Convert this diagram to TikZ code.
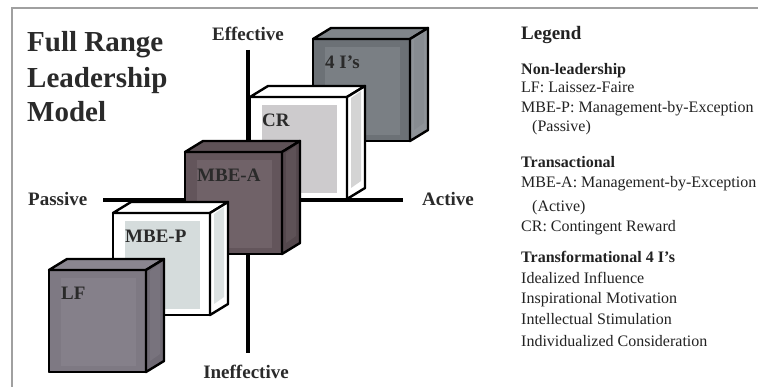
\documentclass[tikz,border=0pt]{standalone}
\usepackage{fontspec}
\setmainfont{Liberation Serif}
\usetikzlibrary{calc}
\definecolor{frameline}{HTML}{A0A0A0}
\definecolor{labeltext}{HTML}{2A2A2A}
\definecolor{legendtext}{HTML}{222222}
\definecolor{lfFront}{HTML}{7E7983}
\definecolor{lfInner}{HTML}{85808A}
\definecolor{lfTop}{HTML}{8A8690}
\definecolor{lfRight}{HTML}{6F6A74}
\definecolor{lfRightIn}{HTML}{78737D}
\definecolor{mbepInner}{HTML}{D5DCDC}
\definecolor{mbepRightIn}{HTML}{DCE2E2}
\definecolor{mbeaFront}{HTML}{63555B}
\definecolor{mbeaInner}{HTML}{706268}
\definecolor{mbeaTop}{HTML}{5E5257}
\definecolor{mbeaRight}{HTML}{54484D}
\definecolor{mbeaRightIn}{HTML}{5E5257}
\definecolor{crInner}{HTML}{CDCBCD}
\definecolor{crRightIn}{HTML}{D4D4D4}
\definecolor{fourFront}{HTML}{6C7176}
\definecolor{fourInner}{HTML}{7A7F84}
\definecolor{fourTop}{HTML}{80858A}
\definecolor{fourRight}{HTML}{8E9398}
\definecolor{fourRightIn}{HTML}{878C91}
\tikzset{
  face/.style={draw=black, line width=2.4pt, line join=round},
  frontface/.style={face, minimum width=97pt, minimum height=102pt, inner sep=0pt, outer sep=0pt, anchor=north west},
  boxlabel/.style={font=\bfseries\fontsize{19}{19}\selectfont, text=labeltext, anchor=base west, inner sep=0pt},
  axisline/.style={line width=3.5pt, black},
  axislabel/.style={font=\bfseries\fontsize{19}{19}\selectfont, inner sep=0pt, text=labeltext},
  titletext/.style={font=\bfseries\fontsize{29}{29}\selectfont, anchor=base west, inner sep=0pt, text=labeltext},
  legendline/.style={font=\fontsize{16}{16}\selectfont, anchor=base west, inner sep=0pt, text=legendtext},
  legendhead/.style={legendline, font=\bfseries\fontsize{16}{16}\selectfont},
}
\newcommand\drawcube[9]{%
  \node[frontface, fill=#4] (#1) at (#2,#3) {};
  \fill[#5] ($(#1.north west)+(12,8)$) rectangle ($(#1.south east)+(-10,-6)$);
  \filldraw[face, fill=#6] (#1.north west) -- ++(18,-11) -- ++(97,0) -- (#1.north east) -- cycle;
  \filldraw[face, fill=#7] (#1.north east) -- ++(18,-11) -- ++(0,102) -- (#1.south east) -- cycle;
  \fill[#8] ($(#1.north east)+(4,1)$) -- ++(10,-7) -- ++(0,90) -- ++(-10,7) -- cycle;
  \draw[face] (#1.north west) rectangle (#1.south east);
  \node[boxlabel] (#1-label) at ($(#1.north west)+(12,30)$) {#9};
}
\begin{document}
\begin{tikzpicture}[x=1pt,y=-1pt]
\useasboundingbox (0,0) rectangle (758,387);
\fill[white] (0,0) rectangle (758,387);
% frame
\coordinate (fTL) at (12,8);
\coordinate (fTR) at (758,8);
\coordinate (fBL) at (12,387);
\draw[frameline, line width=2pt] (fBL) -- (fTL) -- (fTR);
% title
\node[titletext] (t1) at (27,52) {Full Range};
\node[titletext] (t2) at (27,88) {Leadership};
\node[titletext] (t3) at (27,122) {Model};
% axes
\node[axislabel, anchor=base] (effective) at (248,41) {Effective};
\node[axislabel, anchor=base] (ineffective) at (246,378) {Ineffective};
\node[axislabel, anchor=base west] (passive) at (28,206) {Passive};
\node[axislabel, anchor=base west] (active) at (422,206) {Active};
\coordinate (vtop) at (248,50);
\coordinate (vbot) at (248,353);
\coordinate (hleft) at (103,200);
\coordinate (hright) at (403,200);
\draw[axisline] (vtop) -- (vbot);
\draw[axisline] (hleft) -- (hright);
% cubes, back to front
\drawcube{four}{313}{39}{fourFront}{fourInner}{fourTop}{fourRight}{fourRightIn}{4 I’s}
\drawcube{cr}{250}{97}{white}{crInner}{white}{white}{crRightIn}{CR}
\drawcube{mbea}{185}{152}{mbeaFront}{mbeaInner}{mbeaTop}{mbeaRight}{mbeaRightIn}{MBE-A}
\drawcube{mbep}{113}{213}{white}{mbepInner}{white}{white}{mbepRightIn}{MBE-P}
\drawcube{lf}{49}{270}{lfFront}{lfInner}{lfTop}{lfRight}{lfRightIn}{LF}
% legend
\node[legendline, font=\bfseries\fontsize{19}{19}\selectfont] (lg) at (521,40) {Legend};
\node[legendhead] (lg1) at (521,75) {Non-leadership};
\node[legendline] (lg2) at (521,93) {LF: Laissez-Faire};
\node[legendline] (lg3) at (521,113) {MBE-P: Management-by-Exception};
\node[legendline] (lg4) at (532,132) {(Passive)};
\node[legendhead] (lg5) at (521,168) {Transactional};
\node[legendline] (lg6) at (521,188) {MBE-A: Management-by-Exception};
\node[legendline] (lg7) at (532,212) {(Active)};
\node[legendline] (lg8) at (521,232) {CR: Contingent Reward};
\node[legendhead] (lg9) at (521,263) {Transformational 4 I’s};
\node[legendline] (lg10) at (521,284) {Idealized Influence};
\node[legendline] (lg11) at (521,304) {Inspirational Motivation};
\node[legendline] (lg12) at (521,325) {Intellectual Stimulation};
\node[legendline] (lg13) at (521,347) {Individualized Consideration};
\end{tikzpicture}
\end{document}
